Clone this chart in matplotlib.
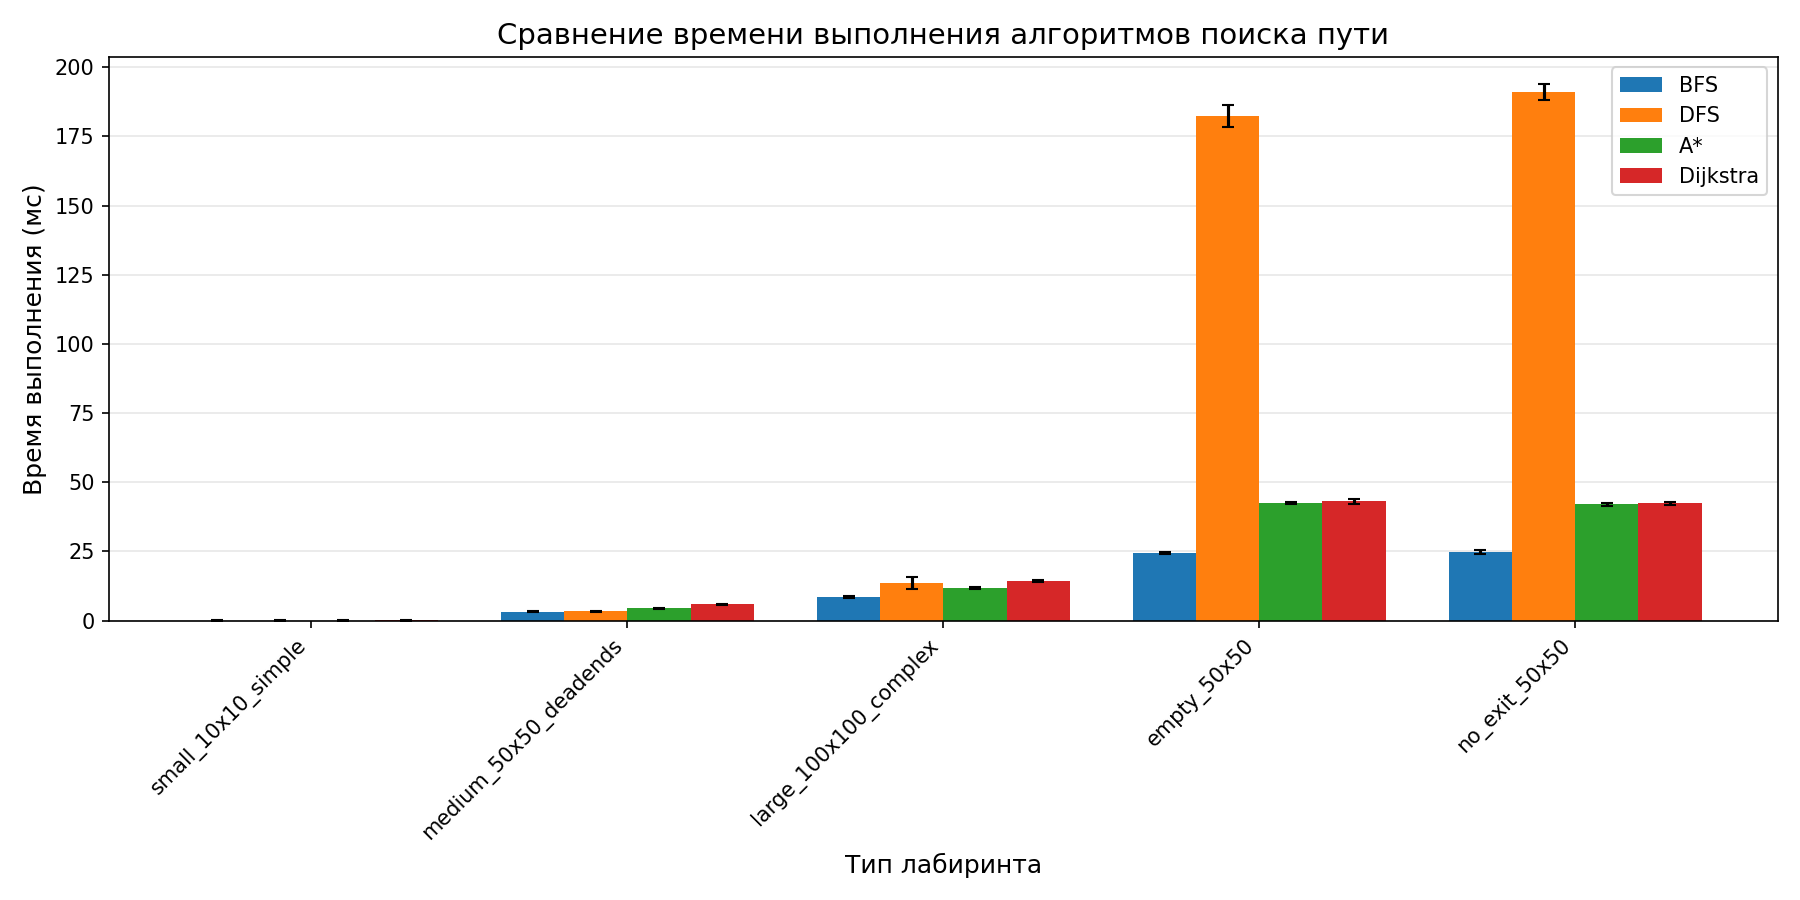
import matplotlib
matplotlib.use("Agg")
import matplotlib.pyplot as plt
import numpy as np

mazes = ["small_10x10_simple", "medium_50x50_deadends", "large_100x100_complex", "empty_50x50", "no_exit_50x50"]
algos = ["BFS", "DFS", "A*", "Dijkstra"]
means = {
    "BFS": [0.05, 3.3, 8.5, 24.5, 24.8],
    "DFS": [0.05, 3.4, 13.6, 182.5, 191.0],
    "A*": [0.06, 4.5, 11.9, 42.5, 42.0],
    "Dijkstra": [0.08, 5.9, 14.3, 43.1, 42.4],
}
errs = {
    "BFS": [0.02, 0.2, 0.3, 0.3, 0.6],
    "DFS": [0.02, 0.2, 2.2, 4.0, 3.0],
    "A*": [0.02, 0.2, 0.3, 0.4, 0.5],
    "Dijkstra": [0.02, 0.3, 0.3, 0.8, 0.5],
}
colors = ["#1f77b4", "#ff7f0e", "#2ca02c", "#d62728"]

fig, ax = plt.subplots(figsize=(12, 6), dpi=150)
x = np.arange(len(mazes))
w = 0.2
for i, a in enumerate(algos):
    ax.bar(x + (i - 1.5) * w, means[a], w, yerr=errs[a], capsize=3, label=a, color=colors[i])
ax.set_xticks(x)
ax.set_xticklabels(mazes, rotation=45, ha="right")
ax.set_xlabel("Тип лабиринта", fontsize=12)
ax.set_ylabel("Время выполнения (мс)", fontsize=12)
ax.set_title("Сравнение времени выполнения алгоритмов поиска пути", fontsize=14)
ax.legend(loc="upper right")
ax.grid(axis="y", alpha=0.3)
ax.set_axisbelow(True)
fig.tight_layout()
fig.savefig("out.png")
